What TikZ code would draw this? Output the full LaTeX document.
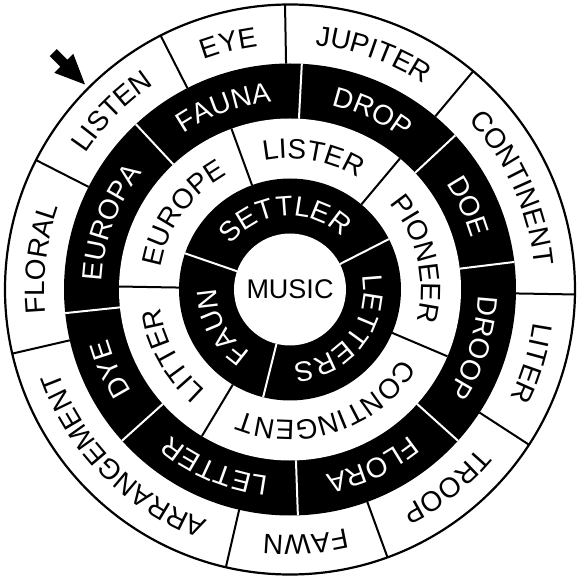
\documentclass[tikz,border=0pt]{standalone}
\usepackage{fontspec}
\setmainfont{Liberation Sans}
\usetikzlibrary{decorations.text}
\newcommand\ringfont{\fontsize{28}{32}\selectfont}
\newcommand\ringlabel[5]{%
  \path[decorate,decoration={text along path,text align=center,text={|\ringfont\color{#4}|#5}}]
    (#2:#1) arc[start angle=#2,end angle=#3,radius=#1];}
\tikzset{
  divblack/.style={draw=black,line width=2pt},
  divwhite/.style={draw=white,line width=2pt},
  rim/.style={draw=black,line width=2.2pt,fill=white}
}
\begin{document}
\begin{tikzpicture}
\useasboundingbox (-290pt,-288.5pt) rectangle (291pt,289.5pt);
\fill[white] (-290pt,-288.5pt) rectangle (291pt,289.5pt);
% rings
\path[rim] (0,0) circle[radius=285pt];
\fill[black] (0,0) circle[radius=226pt];
\fill[white] (0,0) circle[radius=171pt];
\fill[black] (0,0) circle[radius=111pt];
\fill[white] (0,0) circle[radius=56pt];
% dividers
\foreach \a in {117,91,50,-1,-33,-70,-103,193,153}
  \draw[divblack] (\a:226pt) -- (\a:285pt);
\foreach \a in {133,87,43,7,-42,-88,222,186}
  \draw[divwhite] (\a:171pt) -- (\a:226pt);
\foreach \a in {110,50,-23,239,179}
  \draw[divblack] (\a:111pt) -- (\a:171pt);
\foreach \a in {161,27,-104}
  \draw[divwhite] (\a:56pt) -- (\a:111pt);
% outer ring labels
\ringlabel{245.5pt}{153}{117}{black}{LISTEN}
\ringlabel{245.5pt}{117}{91}{black}{EYE}
\ringlabel{245.5pt}{91}{50}{black}{JUPITER}
\ringlabel{245.5pt}{50}{-1}{black}{CONTINENT}
\ringlabel{245.5pt}{-1}{-33}{black}{LITER}
\ringlabel{245.5pt}{-33}{-70}{black}{TROOP}
\ringlabel{245.5pt}{-70}{-103}{black}{FAWN}
\ringlabel{245.5pt}{257}{193}{black}{ARRANGEMENT}
\ringlabel{245.5pt}{193}{153}{black}{FLORAL}
% third ring
\ringlabel{188.5pt}{186}{133}{white}{EUROPA}
\ringlabel{188.5pt}{133}{87}{white}{FAUNA}
\ringlabel{188.5pt}{87}{43}{white}{DROP}
\ringlabel{188.5pt}{43}{7}{white}{DOE}
\ringlabel{188.5pt}{7}{-42}{white}{DROOP}
\ringlabel{188.5pt}{-42}{-88}{white}{FLORA}
\ringlabel{188.5pt}{272}{222}{white}{LETTER}
\ringlabel{188.5pt}{222}{186}{white}{DYE}
% second ring
\ringlabel{131pt}{179}{110}{black}{EUROPE}
\ringlabel{131pt}{110}{50}{black}{LISTER}
\ringlabel{131pt}{50}{-23}{black}{PIONEER}
\ringlabel{131pt}{337}{239}{black}{CONTINGENT}
\ringlabel{131pt}{239}{179}{black}{LITTER}
% first ring
\ringlabel{73.5pt}{161}{27}{white}{SETTLER}
\ringlabel{73.5pt}{27}{-104}{white}{LETTERS}
\ringlabel{73.5pt}{256}{161}{white}{FAUN}
% centre
\node[font=\fontsize{27}{30}\selectfont] (music) at (0,0) {MUSIC};
% arrow
\fill[black] (-205pt,205pt) -- (-216.7pt,235.7pt) -- (-222.7pt,229.7pt) -- (-233.3pt,240.3pt)
  -- (-240.3pt,233.3pt) -- (-229.7pt,222.7pt) -- (-235.7pt,216.7pt) -- cycle;
\end{tikzpicture}
\end{document}
